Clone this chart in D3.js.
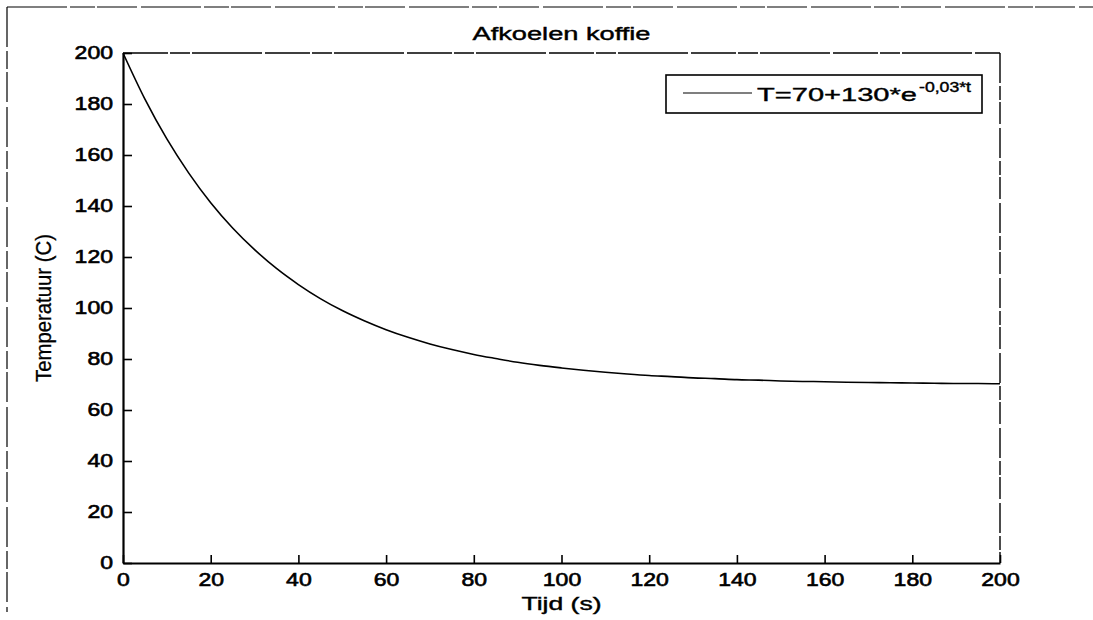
<!DOCTYPE html>
<html>
<head>
<meta charset="utf-8">
<script src="https://cdn.jsdelivr.net/npm/d3@7"></script>
<style>
  html, body { margin: 0; padding: 0; background: #fff; }
  svg { display: block; }
  text { font-family: "Liberation Sans", Arial, sans-serif; fill: #000; }
</style>
</head>
<body>
<svg id="chart" width="1093" height="620"></svg>
<script>
// Cooling of coffee: temperature (C) sampled every 5 s
const times = [0, 5, 10, 15, 20, 25, 30, 35, 40, 45, 50, 55, 60, 65, 70, 75, 80, 85, 90, 95, 100,
               105, 110, 115, 120, 125, 130, 135, 140, 145, 150, 155, 160, 165, 170, 175, 180, 185, 190, 195, 200];
const temps = [200, 181.9, 166.3, 152.9, 141.3, 131.4, 122.9, 115.5, 109.2, 103.7, 99.0, 95.0, 91.5, 88.5, 85.9, 83.7, 81.8, 80.2, 78.7, 77.5, 76.5,
               75.6, 74.8, 74.1, 73.5, 73.1, 72.6, 72.3, 71.9, 71.7, 71.4, 71.2, 71.1, 70.9, 70.8, 70.7, 70.6, 70.5, 70.4, 70.4, 70.3];
const xTicks = [0, 20, 40, 60, 80, 100, 120, 140, 160, 180, 200];
const yTicks = [0, 20, 40, 60, 80, 100, 120, 140, 160, 180, 200];

const titleText = "Afkoelen koffie";
const xLabel = "Tijd (s)";
const yLabel = "Temperatuur (C)";
const legendMain = "T=70+130*e";
const legendExp = "-0,03*t";

const svg = d3.select("#chart");
const plotL = 123, plotR = 1000, plotT = 53, plotB = 563;

const x = d3.scaleLinear().domain([0, 200]).range([plotL, plotR]);
const y = d3.scaleLinear().domain([0, 200]).range([plotB, plotT]);

const digitW = 12.8;

// heavier-looking regular text
function ink(sel, w) {
  return sel.attr("stroke", "#000").attr("stroke-width", w).attr("paint-order", "stroke");
}

// page frame (scanned sheet edges)
svg.append("line").attr("x1", 7).attr("x2", 1093).attr("y1", 7).attr("y2", 7)
  .attr("stroke", "#000").attr("stroke-width", 1.2).attr("stroke-dasharray", "60,3,25,2,40,4");
svg.append("line").attr("x1", 7).attr("x2", 7).attr("y1", 7).attr("y2", 612)
  .attr("stroke", "#000").attr("stroke-width", 1.2).attr("stroke-dasharray", "40,4,18,3,30,5");

// top and right box edges
svg.append("line").attr("x1", plotL).attr("x2", plotR).attr("y1", plotT).attr("y2", plotT)
  .attr("stroke", "#000").attr("stroke-width", 1.6).attr("stroke-dasharray", "45,2,20,2,70,3");
svg.append("line").attr("x1", plotR).attr("x2", plotR).attr("y1", plotT).attr("y2", plotB)
  .attr("stroke", "#000").attr("stroke-width", 1.4).attr("stroke-dasharray", "30,3,14,2,22,4");

// x axis (ticks pointing inward)
const gx = svg.append("g").attr("transform", `translate(0,${plotB})`)
  .call(d3.axisBottom(x).tickValues(xTicks).tickSizeInner(-8).tickSizeOuter(0).tickPadding(10));
gx.select(".domain").attr("stroke-width", 2.2);
gx.selectAll(".tick line").attr("stroke-width", 1.6);
ink(gx.selectAll(".tick text"), 0.6).attr("font-size", 18)
  .attr("font-family", "Liberation Sans, Arial, sans-serif")
  .attr("textLength", d => String(d).length * digitW).attr("lengthAdjust", "spacingAndGlyphs");

// y axis
const gy = svg.append("g").attr("transform", `translate(${plotL},0)`)
  .call(d3.axisLeft(y).tickValues(yTicks).tickSizeInner(-9).tickSizeOuter(0).tickPadding(12));
gy.select(".domain").attr("stroke-width", 2.2);
gy.selectAll(".tick line").attr("stroke-width", 1.6);
ink(gy.selectAll(".tick text"), 0.6).attr("font-size", 18)
  .attr("font-family", "Liberation Sans, Arial, sans-serif")
  .attr("x", -10)
  .attr("textLength", d => String(d).length * digitW).attr("lengthAdjust", "spacingAndGlyphs");

// cooling curve
const line = d3.line().x((d, i) => x(times[i])).y(d => y(d)).curve(d3.curveMonotoneX);
svg.append("path").datum(temps).attr("d", line)
  .attr("fill", "none").attr("stroke", "#000").attr("stroke-width", 1.6);

// title and axis labels
ink(svg.append("text"), 0.4).attr("x", (plotL + plotR) / 2).attr("y", 40).attr("text-anchor", "middle")
  .attr("font-size", 18)
  .attr("textLength", 178).attr("lengthAdjust", "spacingAndGlyphs").text(titleText);

ink(svg.append("text"), 0.4).attr("x", (plotL + plotR) / 2).attr("y", 610).attr("text-anchor", "middle")
  .attr("font-size", 18)
  .attr("textLength", 80).attr("lengthAdjust", "spacingAndGlyphs").text(xLabel);

ink(svg.append("text"), 0.3).attr("transform", "translate(51,308) rotate(-90)").attr("text-anchor", "middle")
  .attr("font-size", 22)
  .attr("textLength", 148).attr("lengthAdjust", "spacingAndGlyphs").text(yLabel);

// legend
const lg = svg.append("g");
lg.append("rect").attr("x", 666).attr("y", 75).attr("width", 316).attr("height", 38)
  .attr("fill", "#fff").attr("stroke", "#000").attr("stroke-width", 1.6);
lg.append("line").attr("x1", 683).attr("x2", 752).attr("y1", 93).attr("y2", 93)
  .attr("stroke", "#000").attr("stroke-width", 1.2);
const lt = ink(lg.append("text"), 0.4).attr("x", 757).attr("y", 101).attr("font-size", 19);
lt.append("tspan").attr("textLength", 160).attr("lengthAdjust", "spacingAndGlyphs").text(legendMain);
lt.append("tspan").attr("font-size", 14).attr("dy", -9).attr("dx", 2)
  .attr("textLength", 52).attr("lengthAdjust", "spacingAndGlyphs").text(legendExp);
</script>
</body>
</html>
